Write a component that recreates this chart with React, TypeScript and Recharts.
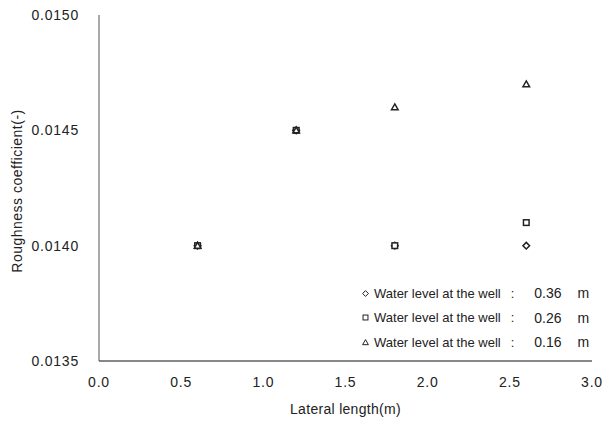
import React from "react";
import { ScatterChart, Scatter, XAxis, YAxis } from "recharts";

const lateralLength = [0.6, 1.2, 1.8, 2.6];
const level036 = [0.014, 0.0145, 0.014, 0.014];
const level026 = [0.014, 0.0145, 0.014, 0.0141];
const level016 = [0.014, 0.0145, 0.0146, 0.0147];

const xTicks = [0, 0.5, 1, 1.5, 2, 2.5, 3];
const yTicks = [0.0135, 0.014, 0.0145, 0.015];

const toPoints = (ys: number[]) => lateralLength.map((x, i) => ({ x, y: ys[i] }));

const series = [
  { name: "Water level at the well", level: "0.36", shape: "diamond", data: toPoints(level036) },
  { name: "Water level at the well", level: "0.26", shape: "square", data: toPoints(level026) },
  { name: "Water level at the well", level: "0.16", shape: "triangle", data: toPoints(level016) },
];

const font = "'Liberation Sans', Arial, sans-serif";
const ink = "#222";
const tickStyle = { fontFamily: font, fontSize: 14, fill: ink, letterSpacing: 0.8 };

// small open marker centred on (cx, cy); r is half the width
const Marker = ({ shape, cx, cy, r, sw }: { shape: string; cx: number; cy: number; r: number; sw: number }) => {
  if (shape === "diamond")
    return <polygon points={`${cx},${cy - r} ${cx + r},${cy} ${cx},${cy + r} ${cx - r},${cy}`} fill="#fff" stroke={ink} strokeWidth={sw} />;
  if (shape === "square")
    return <rect x={cx - r * 0.85} y={cy - r * 0.85} width={r * 1.7} height={r * 1.7} fill="#fff" stroke={ink} strokeWidth={sw} />;
  return <polygon points={`${cx},${cy - r} ${cx + r},${cy + r * 0.75} ${cx - r},${cy + r * 0.75}`} fill="#fff" stroke={ink} strokeWidth={sw} />;
};

const YTitle = ({ viewBox }: any) => {
  const x = viewBox.x + 17;
  const y = viewBox.y + viewBox.height / 2 + 3;
  return (
    <text x={x} y={y} transform={`rotate(-90, ${x}, ${y})`} textAnchor="middle" dominantBaseline="central"
      style={{ fontFamily: font, fontSize: 14, fill: ink, letterSpacing: 0.5 }}>
      Roughness coefficient(-)
    </text>
  );
};

// legend drawn over the plot, bottom right, like the original figure
const LegendBox = () => (
  <div style={{ position: "absolute", left: 362, top: 281, fontFamily: font, fontSize: 13, color: ink }}>
    {series.map((s) => (
      <div key={s.level} style={{ display: "flex", alignItems: "center", height: 24.5, whiteSpace: "pre" }}>
        <svg width={7} height={7} style={{ marginRight: 5 }}>
          <Marker shape={s.shape} cx={3.5} cy={3.5} r={2.9} sw={1} />
        </svg>
        <span>{s.name}</span>
        <span style={{ marginLeft: 10 }}>:</span>
        <span style={{ marginLeft: 20, fontSize: 14 }}>{s.level}</span>
        <span style={{ marginLeft: 16, fontSize: 14 }}>m</span>
      </div>
    ))}
  </div>
);

export default function App() {
  return (
    <div style={{ position: "absolute", left: 0, top: 0, width: 604, height: 421, background: "#fff" }}>
      <ScatterChart width={604} height={421} margin={{ top: 15, right: 12, bottom: 0, left: 0 }}>
        <XAxis
          type="number"
          dataKey="x"
          domain={[0, 3]}
          ticks={xTicks}
          tickFormatter={(v: number) => v.toFixed(1)}
          tickLine={false}
          tickSize={0}
          tickMargin={16}
          height={60}
          axisLine={{ stroke: "#111" }}
          tick={tickStyle}
          label={{ value: "Lateral length(m)", position: "insideBottom", offset: 7, fontFamily: font, fontSize: 14, fill: ink, letterSpacing: 0.3 }}
        />
        <YAxis
          type="number"
          dataKey="y"
          domain={[0.0135, 0.015]}
          ticks={yTicks}
          tickFormatter={(v: number) => v.toFixed(4)}
          tickLine={false}
          tickSize={0}
          tickMargin={20}
          width={99}
          axisLine={{ stroke: "#555" }}
          tick={tickStyle}
          label={{ content: YTitle }}
        />
        {series.map((s) => (
          <Scatter
            key={s.level}
            name={`${s.name} : ${s.level} m`}
            data={s.data}
            shape={(p: any) => <Marker shape={s.shape} cx={p.cx} cy={p.cy} r={3.3} sw={1.5} />}
            isAnimationActive={false}
          />
        ))}
      </ScatterChart>
      <LegendBox />
    </div>
  );
}
